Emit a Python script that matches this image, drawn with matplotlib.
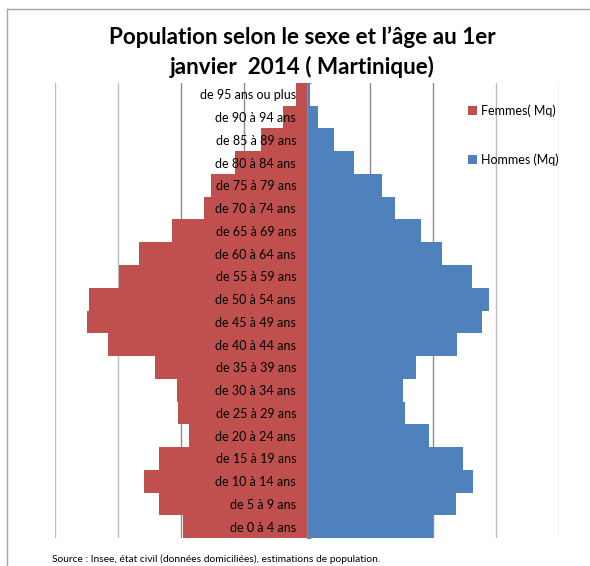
import matplotlib
matplotlib.use("Agg")
import matplotlib.pyplot as plt
import matplotlib.transforms as mtransforms
from matplotlib.patches import Patch
from matplotlib.lines import Line2D

plt.rcParams['font.family'] = ['Lato', 'DejaVu Sans']

# age groups, youngest first
ages = ["de 0 à 4 ans", "de 5 à 9 ans", "de 10 à 14 ans", "de 15 à 19 ans",
        "de 20 à 24 ans", "de 25 à 29 ans", "de 30 à 34 ans", "de 35 à 39 ans",
        "de 40 à 44 ans", "de 45 à 49 ans", "de 50 à 54 ans", "de 55 à 59 ans",
        "de 60 à 64 ans", "de 65 à 69 ans", "de 70 à 74 ans", "de 75 à 79 ans",
        "de 80 à 84 ans", "de 85 à 89 ans", "de 90 à 94 ans", "de 95 ans ou plus"]

femmes = [9840, 11750, 12940, 11750, 9370, 10240, 10300, 12060, 15800, 17460,
          17300, 14900, 13300, 10700, 8200, 7600, 5700, 3650, 1900, 870]
hommes = [9980, 11810, 13190, 12370, 9720, 7760, 7630, 8670, 11900, 13900,
          14480, 13080, 10700, 9060, 7020, 5970, 3710, 2180, 870, 250]

red = "#C0504D"
blue = "#4F81BD"

W, H = 590, 566
fig = plt.figure(figsize=(W / 100, H / 100), dpi=100)
ax = fig.add_axes([55 / W, (H - 538) / H, (559 - 55) / W, (538 - 83) / H])

y = list(range(len(ages)))
ax.barh(y, [-v for v in femmes], height=1.0, color=red, linewidth=0, zorder=2)
ax.barh(y, hommes, height=1.0, color=blue, linewidth=0, zorder=2)

ax.set_xlim(-20000, 20000)
ax.set_ylim(-0.5, len(ages) - 0.5)

# vertical gridlines
for gx in range(-20000, 20001, 5000):
    if gx == 0:
        continue
    col = "#8c8c8c" if abs(gx) <= 10000 else "#bdbdbd"
    ax.axvline(gx, color=col, linewidth=1.0, zorder=1)

for s in ["top", "right", "bottom"]:
    ax.spines[s].set_visible(False)
ax.spines["left"].set_position(("data", 0))
ax.spines["left"].set_color("#8c8c8c")
ax.spines["left"].set_zorder(3)
ax.set_xticks([])
ax.set_yticks([i - 0.5 for i in range(len(ages) + 1)])
ax.set_yticklabels([])
ax.tick_params(axis="y", length=3, direction="in", color="#8c8c8c")

# category labels drawn over the bars, right-aligned next to the axis
trans = mtransforms.offset_copy(ax.transData, fig=fig, x=-11, y=-1, units="dots")
for i, lab in enumerate(ages):
    ax.text(0, i, lab, transform=trans, ha="right", va="center",
            fontsize=9, zorder=5)

# legend
handles = [Patch(facecolor=red, label="Femmes( Mq)"),
           Patch(facecolor=blue, label="Hommes (Mq)")]
fig.legend(handles=handles, loc="upper left",
           bbox_to_anchor=(462 / W, (H - 98) / H), frameon=False,
           fontsize=9, handlelength=0.7, handleheight=0.7,
           handletextpad=0.3, labelspacing=2.9, borderpad=0)

# title
fig.text(302 / W, (H - 37) / H, "Population selon le sexe et l’âge au 1er",
         ha="center", va="center", fontsize=16.2, fontweight="bold")
fig.text(302 / W, (H - 67) / H, "janvier  2014 ( Martinique)",
         ha="center", va="center", fontsize=16.2, fontweight="bold")

# source
fig.text(52 / W, (H - 559) / H,
         "Source : Insee, état civil (données domiciliées), estimations de population.",
         ha="left", va="center", fontsize=7.4)

# chart frame (left and top edges)
fig.add_artist(Line2D([7 / W, 7 / W], [0, (H - 9) / H], color="#a6a6a6",
                      linewidth=1.0))
fig.add_artist(Line2D([7 / W, 1], [(H - 9) / H, (H - 9) / H], color="#a6a6a6",
                      linewidth=1.0))

fig.savefig("out.png", dpi=100)
